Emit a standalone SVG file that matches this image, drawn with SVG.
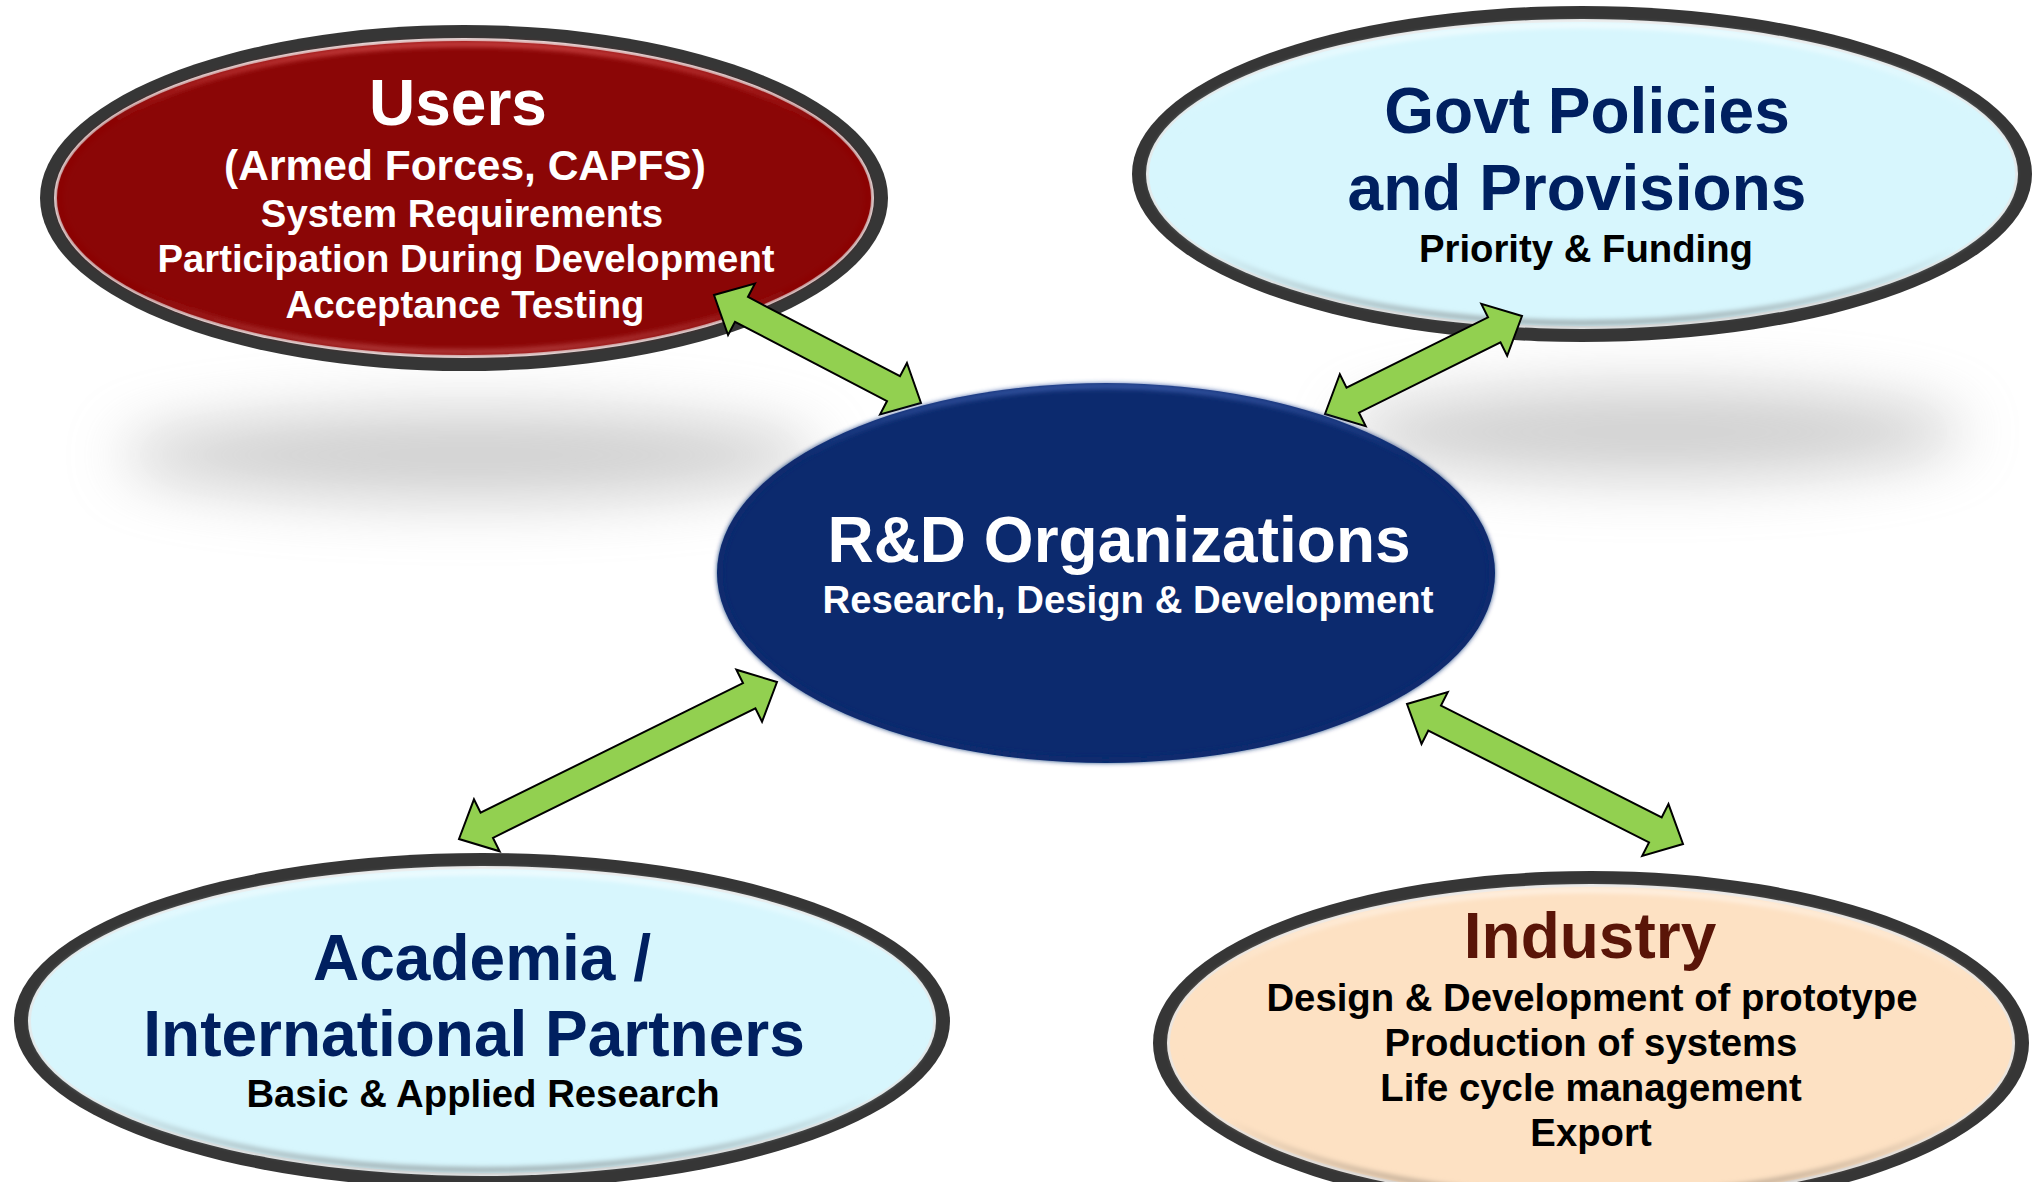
<svg xmlns="http://www.w3.org/2000/svg" width="2034" height="1182" viewBox="0 0 2034 1182">
<defs>
<style>
text{font-family:"Liberation Sans",Arial,sans-serif;font-weight:bold;text-anchor:middle}
.ring{fill:#363636}
.rim{fill:#e6e6e6}
.h{font-size:64px}
.s{font-size:38.3px}
.navy{fill:#002060}
.blk{fill:#000}
.wht{fill:#fff}
.arrow{fill:#92D050;stroke:#000;stroke-width:2;stroke-linejoin:miter}
</style>
<filter id="shadowBlur" x="-40%" y="-200%" width="180%" height="500%"><feGaussianBlur stdDeviation="30"/></filter>
<filter id="softEdge" x="-10%" y="-10%" width="120%" height="120%"><feGaussianBlur stdDeviation="2.5"/></filter>
<linearGradient id="redBevel" x1="0" y1="0" x2="0" y2="1">
<stop offset="0" stop-color="#d04848"/><stop offset="0.25" stop-color="#8b0606"/><stop offset="0.8" stop-color="#8b0606"/><stop offset="1" stop-color="#b54040"/>
</linearGradient>
<linearGradient id="cyanBevel" x1="0" y1="0" x2="0" y2="1">
<stop offset="0" stop-color="#f4fdff"/><stop offset="0.3" stop-color="#d7f6fd"/><stop offset="0.75" stop-color="#d7f6fd"/><stop offset="1" stop-color="#9aa8ab"/>
</linearGradient>
<linearGradient id="peachBevel" x1="0" y1="0" x2="0" y2="1">
<stop offset="0" stop-color="#fff3e6"/><stop offset="0.3" stop-color="#fde1c3"/><stop offset="0.75" stop-color="#fde1c3"/><stop offset="1" stop-color="#b3a08c"/>
</linearGradient>
<linearGradient id="navyBevel" x1="0" y1="0" x2="0" y2="1">
<stop offset="0" stop-color="#3a5aa8"/><stop offset="0.2" stop-color="#0c2a6e"/><stop offset="1" stop-color="#0c2a6e"/>
</linearGradient>
</defs>
<rect width="2034" height="1182" fill="#fff"/>

<g id="shadows">
<ellipse cx="470" cy="455" rx="350" ry="45" fill="#a0a0a0" opacity="0.5" filter="url(#shadowBlur)"/>
<ellipse cx="1655" cy="432" rx="310" ry="45" fill="#a0a0a0" opacity="0.5" filter="url(#shadowBlur)"/>
</g>

<g id="node-users">
<ellipse class="ring" cx="464" cy="198" rx="424" ry="173"/>
<ellipse class="rim" cx="464" cy="198" rx="410" ry="160"/>
<ellipse cx="464" cy="198" rx="407" ry="157" fill="#8b0606"/>
<ellipse cx="464" cy="198" rx="404" ry="154" fill="none" stroke="url(#redBevel)" stroke-width="5" filter="url(#softEdge)"/>
<text class="h wht" x="458" y="125">Users</text>
<text class="wht" x="465" y="180" font-size="42.5">(Armed Forces, CAPFS)</text>
<text class="s wht" x="462" y="227">System Requirements</text>
<text class="s wht" x="466" y="272">Participation During Development</text>
<text class="s wht" x="465" y="318">Acceptance Testing</text>
</g>

<g id="node-govt">
<ellipse class="ring" cx="1582" cy="174" rx="450" ry="168"/>
<ellipse class="rim" cx="1582" cy="174" rx="436" ry="155"/>
<ellipse cx="1582" cy="174" rx="433" ry="152" fill="#d7f6fd"/>
<ellipse cx="1582" cy="174" rx="430" ry="149" fill="none" stroke="url(#cyanBevel)" stroke-width="5" filter="url(#softEdge)"/>
<text class="h navy" x="1587" y="133">Govt Policies</text>
<text class="h navy" x="1577" y="210">and Provisions</text>
<text class="s blk" x="1586" y="262">Priority &amp; Funding</text>
</g>

<g id="node-academia">
<ellipse class="ring" cx="482" cy="1021" rx="468" ry="168"/>
<ellipse class="rim" cx="482" cy="1021" rx="454" ry="155"/>
<ellipse cx="482" cy="1021" rx="451" ry="152" fill="#d7f6fd"/>
<ellipse cx="482" cy="1021" rx="448" ry="149" fill="none" stroke="url(#cyanBevel)" stroke-width="5" filter="url(#softEdge)"/>
<text class="h navy" x="482" y="980">Academia /</text>
<text class="h navy" x="474" y="1056">International Partners</text>
<text class="s blk" x="483" y="1107">Basic &amp; Applied Research</text>
</g>

<g id="node-industry">
<ellipse class="ring" cx="1591" cy="1043" rx="438" ry="172"/>
<ellipse class="rim" cx="1591" cy="1043" rx="424" ry="159"/>
<ellipse cx="1591" cy="1043" rx="421" ry="156" fill="#fde1c3"/>
<ellipse cx="1591" cy="1043" rx="418" ry="153" fill="none" stroke="url(#peachBevel)" stroke-width="5" filter="url(#softEdge)"/>
<text class="h" x="1590" y="958" fill="#5a1508">Industry</text>
<text class="s blk" x="1592" y="1011">Design &amp; Development of prototype</text>
<text class="s blk" x="1591" y="1056">Production of systems</text>
<text class="s blk" x="1591" y="1101">Life cycle management</text>
<text class="s blk" x="1591" y="1146">Export</text>
</g>

<g id="connectors">
<polygon class="arrow" points="714,295 728.06,335.05 735.0,321.75 887.04,401.07 880.1,414.37 921,403 906.94,362.95 900.0,376.25 747.96,296.93 754.9,283.63"/>
<polygon class="arrow" points="1522,316 1481.33,303.85 1488.01,317.28 1346.51,387.66 1339.83,374.23 1325,414 1365.67,426.15 1358.99,412.72 1500.49,342.34 1507.17,355.77"/>
<polygon class="arrow" points="777,682 736.36,669.72 743.0,683.17 480.6,812.73 473.96,799.28 459,839 499.64,851.28 493.0,837.83 755.4,708.27 762.04,721.72"/>
<polygon class="arrow" points="1407,704 1421.53,743.88 1428.32,730.51 1649.02,842.47 1642.23,855.84 1683,844 1668.47,804.12 1661.68,817.49 1440.98,705.53 1447.77,692.16"/>
</g>

<g id="node-rd">
<ellipse cx="1106" cy="573" rx="389" ry="190" fill="#0c2a6e"/>
<ellipse cx="1106" cy="573" rx="386" ry="187" fill="none" stroke="url(#navyBevel)" stroke-width="5" filter="url(#softEdge)"/>
<text class="h wht" x="1119" y="562">R&amp;D Organizations</text>
<text class="s wht" x="1128" y="613">Research, Design &amp; Development</text>
</g>
</svg>
